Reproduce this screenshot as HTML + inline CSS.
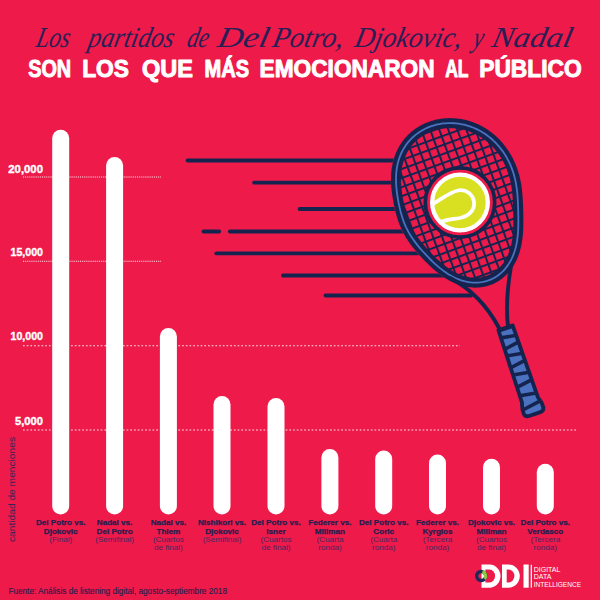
<!DOCTYPE html>
<html><head><meta charset="utf-8"><style>
html,body{margin:0;padding:0;background:#EE1A4A;}
svg{display:block}
.sc{font-family:"Liberation Serif",serif;font-style:italic;font-size:29px;fill:#2A1F55}
.cap{font-size:33px}
.tt{font-family:"Liberation Sans",sans-serif;font-weight:bold;font-size:24.2px;fill:#fff;stroke:#fff;stroke-width:1.0px;stroke-linejoin:round}
.lb{font-family:"Liberation Sans",sans-serif;font-weight:bold;font-size:8.1px;fill:#1E1F4F;stroke:#1E1F4F;stroke-width:0.25px;text-anchor:middle}
.lr{font-family:"Liberation Sans",sans-serif;font-size:8.1px;fill:#4A2762;text-anchor:middle}
.ax{font-family:"Liberation Sans",sans-serif;font-weight:bold;font-size:10.3px;fill:#fff;stroke:#fff;stroke-width:0.35px}
.yl{font-family:"Liberation Sans",sans-serif;font-size:9.8px;fill:#3A2358}
</style></head><body>
<svg width="600" height="600" viewBox="0 0 600 600">
<rect width="600" height="600" fill="#EE1A4A"/>
<text transform="translate(35.10,46.7) skewX(-12)" x="0" y="0" class="sc" textLength="33.40" lengthAdjust="spacingAndGlyphs">Los</text>
<text transform="translate(87.10,46.7) skewX(-12)" x="0" y="0" class="sc" textLength="85.40" lengthAdjust="spacingAndGlyphs">partidos</text>
<text transform="translate(185.90,46.7) skewX(-12)" x="0" y="0" class="sc" textLength="21.60" lengthAdjust="spacingAndGlyphs">de</text>
<text transform="translate(216.20,46.7) skewX(-12)" x="0" y="0" class="sc" textLength="51.00" lengthAdjust="spacingAndGlyphs">Del</text>
<text transform="translate(271.20,46.7) skewX(-12)" x="0" y="0" class="sc" textLength="71.00" lengthAdjust="spacingAndGlyphs">Potro,</text>
<text transform="translate(353.50,46.7) skewX(-12)" x="0" y="0" class="sc" textLength="107.00" lengthAdjust="spacingAndGlyphs">Djokovic,</text>
<text transform="translate(472.00,46.7) skewX(-12)" x="0" y="0" class="sc" textLength="10.00" lengthAdjust="spacingAndGlyphs">y</text>
<text transform="translate(490.50,46.7) skewX(-12)" x="0" y="0" class="sc" textLength="80.00" lengthAdjust="spacingAndGlyphs">Nadal</text>
<text x="28.2" y="76.5" class="tt" textLength="43.0" lengthAdjust="spacingAndGlyphs">SON</text>
<text x="82.2" y="76.5" class="tt" textLength="46.8" lengthAdjust="spacingAndGlyphs">LOS</text>
<text x="142.0" y="76.5" class="tt" textLength="51.0" lengthAdjust="spacingAndGlyphs">QUE</text>
<text x="204.6" y="76.5" class="tt" textLength="44.6" lengthAdjust="spacingAndGlyphs">MÁS</text>
<text x="259.6" y="76.5" class="tt" textLength="175.0" lengthAdjust="spacingAndGlyphs">EMOCIONARON</text>
<text x="445.2" y="76.5" class="tt" textLength="23.4" lengthAdjust="spacingAndGlyphs">AL</text>
<text x="479.2" y="76.5" class="tt" textLength="102.6" lengthAdjust="spacingAndGlyphs">PÚBLICO</text>
<g stroke="#fff" stroke-width="1.1" opacity="0.88">
<line x1="23" y1="177" x2="161.6" y2="177" stroke-dasharray="1 0.9"/>
<line x1="23" y1="261.2" x2="161.6" y2="261.2" stroke-dasharray="1 0.9"/>
<line x1="23" y1="345.8" x2="460" y2="345.8" stroke-dasharray="1.7 2"/>
<line x1="23" y1="430" x2="577" y2="430" stroke-dasharray="1.7 2"/>
</g>
<text x="8.3" y="172.6" class="ax" textLength="34.7" lengthAdjust="spacingAndGlyphs">20,000</text>
<text x="10.5" y="256.0" class="ax" textLength="32.5" lengthAdjust="spacingAndGlyphs">15,000</text>
<text x="10.5" y="340.0" class="ax" textLength="32.5" lengthAdjust="spacingAndGlyphs">10,000</text>
<text x="15.0" y="425.0" class="ax" textLength="28.0" lengthAdjust="spacingAndGlyphs">5,000</text>
<text transform="translate(15,542) rotate(-90)" x="0" y="0" textLength="105" lengthAdjust="spacingAndGlyphs" class="yl">cantidad de menciones</text>
<rect x="52.20" y="129.7" width="17" height="384.80" rx="8.5" fill="#fff"/>
<rect x="106.10" y="157" width="17" height="357.50" rx="8.5" fill="#fff"/>
<rect x="159.90" y="328" width="17" height="186.50" rx="8.5" fill="#fff"/>
<rect x="213.50" y="396" width="17" height="118.50" rx="8.5" fill="#fff"/>
<rect x="267.50" y="397.9" width="17" height="116.60" rx="8.5" fill="#fff"/>
<rect x="321.40" y="448.9" width="17" height="65.60" rx="8.5" fill="#fff"/>
<rect x="375.20" y="450.5" width="17" height="64.00" rx="8.5" fill="#fff"/>
<rect x="429.00" y="454.5" width="17" height="60.00" rx="8.5" fill="#fff"/>
<rect x="483.00" y="458.7" width="17" height="55.80" rx="8.5" fill="#fff"/>
<rect x="536.80" y="463.7" width="17" height="50.80" rx="8.5" fill="#fff"/>
<text x="60.7" y="525.3" class="lb">Del Potro vs.</text>
<text x="60.7" y="533.5" class="lb">Djokovic</text>
<text x="60.7" y="541.7" class="lr">(Final)</text>
<text x="114.6" y="525.3" class="lb">Nadal vs.</text>
<text x="114.6" y="533.5" class="lb">Del Potro</text>
<text x="114.6" y="541.7" class="lr">(Semifinal)</text>
<text x="168.4" y="525.3" class="lb">Nadal vs.</text>
<text x="168.4" y="533.5" class="lb">Thiem</text>
<text x="168.4" y="541.7" class="lr">(Cuartos</text>
<text x="168.4" y="549.9" class="lr">de final)</text>
<text x="222.0" y="525.3" class="lb">Nishikori vs.</text>
<text x="222.0" y="533.5" class="lb">Djokovic</text>
<text x="222.0" y="541.7" class="lr">(Semifinal)</text>
<text x="276.0" y="525.3" class="lb">Del Potro vs.</text>
<text x="276.0" y="533.5" class="lb">Isner</text>
<text x="276.0" y="541.7" class="lr">(Cuartos</text>
<text x="276.0" y="549.9" class="lr">de final)</text>
<text x="329.9" y="525.3" class="lb">Federer vs.</text>
<text x="329.9" y="533.5" class="lb">Millman</text>
<text x="329.9" y="541.7" class="lr">(Cuarta</text>
<text x="329.9" y="549.9" class="lr">ronda)</text>
<text x="383.7" y="525.3" class="lb">Del Potro vs.</text>
<text x="383.7" y="533.5" class="lb">Coric</text>
<text x="383.7" y="541.7" class="lr">(Cuarta</text>
<text x="383.7" y="549.9" class="lr">ronda)</text>
<text x="437.5" y="525.3" class="lb">Federer vs.</text>
<text x="437.5" y="533.5" class="lb">Kyrgios</text>
<text x="437.5" y="541.7" class="lr">(Tercera</text>
<text x="437.5" y="549.9" class="lr">ronda)</text>
<text x="491.5" y="525.3" class="lb">Djokovic vs.</text>
<text x="491.5" y="533.5" class="lb">Millman</text>
<text x="491.5" y="541.7" class="lr">(Cuartos</text>
<text x="491.5" y="549.9" class="lr">de final)</text>
<text x="545.3" y="525.3" class="lb">Del Potro vs.</text>
<text x="545.3" y="533.5" class="lb">Verdasco</text>
<text x="545.3" y="541.7" class="lr">(Tercera</text>
<text x="545.3" y="549.9" class="lr">ronda)</text>
<g stroke="#15244F" stroke-width="3.8" stroke-linecap="round">
<line x1="187.6" y1="160.5" x2="440" y2="160.5"/>
<line x1="254.1" y1="182.7" x2="440" y2="182.7"/>
<line x1="299.6" y1="209" x2="430" y2="209"/>
<line x1="229.8" y1="231.5" x2="430" y2="231.5"/>
<line x1="216.3" y1="253.3" x2="440" y2="253.3"/>
<line x1="283" y1="275.5" x2="470" y2="275.5"/>
<line x1="325.5" y1="295.5" x2="471" y2="295.5"/>
<line x1="203.5" y1="231.5" x2="219.2" y2="231.5"/>
</g>
<!-- racket -->
<defs>
<clipPath id="headclip"><path d="M398.27,201.00 L397.99,199.43 L397.72,197.84 L397.46,196.24 L397.21,194.61 L396.99,192.97 L396.78,191.30 L396.59,189.62 L396.42,187.91 L396.27,186.18 L396.16,184.43 L396.07,182.66 L396.02,180.86 L396.01,179.05 L396.03,177.21 L396.10,175.36 L396.22,173.49 L396.39,171.61 L396.61,169.72 L396.89,167.82 L397.23,165.91 L397.63,164.01 L398.10,162.10 L398.64,160.20 L399.25,158.31 L399.92,156.44 L400.67,154.58 L401.50,152.74 L402.39,150.93 L403.36,149.15 L404.41,147.41 L405.52,145.70 L406.71,144.03 L407.96,142.42 L409.29,140.85 L410.68,139.33 L412.13,137.87 L413.65,136.47 L415.22,135.13 L416.85,133.86 L418.54,132.65 L420.27,131.51 L422.04,130.43 L423.86,129.43 L425.72,128.50 L427.62,127.65 L429.54,126.87 L431.50,126.16 L433.48,125.52 L435.48,124.96 L437.50,124.48 L439.53,124.07 L441.58,123.73 L443.63,123.47 L445.69,123.28 L447.75,123.16 L449.81,123.11 L451.87,123.14 L453.92,123.23 L455.97,123.40 L458.00,123.63 L460.02,123.93 L462.02,124.29 L464.00,124.72 L465.97,125.21 L467.90,125.77 L469.82,126.38 L471.71,127.05 L473.56,127.78 L475.39,128.57 L477.18,129.40 L478.94,130.29 L480.67,131.23 L482.36,132.22 L484.01,133.25 L485.62,134.33 L487.19,135.45 L488.72,136.60 L490.20,137.80 L491.65,139.03 L493.05,140.29 L494.41,141.58 L495.73,142.90 L497.00,144.25 L498.23,145.63 L499.42,147.03 L500.56,148.44 L501.66,149.88 L502.72,151.34 L503.73,152.81 L504.71,154.29 L505.64,155.79 L506.53,157.30 L507.38,158.82 L508.19,160.35 L508.96,161.89 L509.70,163.44 L510.39,164.99 L511.05,166.55 L511.67,168.11 L512.26,169.67 L512.81,171.24 L513.32,172.81 L513.80,174.38 L514.25,175.96 L514.66,177.53 L515.05,179.10 L515.40,180.67 L515.72,182.24 L516.02,183.81 L516.29,185.38 L516.53,186.95 L516.75,188.51 L516.95,190.07 L517.13,191.64 L517.28,193.19 L517.42,194.75 L517.55,196.31 L517.66,197.87 L517.76,199.44 L517.84,201.00 L517.92,202.57 L517.99,204.14 L518.05,205.73 L518.11,207.32 L518.16,208.92 L518.20,210.53 L518.24,212.17 L518.28,213.81 L518.31,215.48 L518.33,217.17 L518.35,218.88 L518.36,220.61 L518.35,222.37 L518.33,224.16 L518.30,225.98 L518.24,227.82 L518.17,229.70 L518.06,231.60 L517.92,233.53 L517.74,235.49 L517.53,237.48 L517.26,239.49 L516.95,241.51 L516.58,243.56 L516.15,245.62 L515.65,247.68 L515.08,249.75 L514.44,251.82 L513.72,253.88 L512.92,255.92 L512.03,257.94 L511.06,259.92 L509.99,261.88 L508.84,263.78 L507.60,265.63 L506.26,267.43 L504.84,269.15 L503.33,270.79 L501.73,272.36 L500.05,273.83 L498.29,275.20 L496.45,276.47 L494.55,277.63 L492.59,278.68 L490.56,279.61 L488.48,280.42 L486.36,281.10 L484.21,281.66 L482.02,282.09 L479.81,282.40 L477.59,282.58 L475.35,282.63 L473.12,282.57 L470.89,282.39 L468.68,282.10 L466.48,281.69 L464.31,281.18 L462.17,280.58 L460.07,279.88 L458.00,279.10 L455.98,278.24 L454.00,277.31 L452.07,276.32 L450.19,275.27 L448.37,274.17 L446.59,273.03 L444.87,271.85 L443.20,270.65 L441.58,269.41 L440.00,268.16 L438.48,266.90 L437.00,265.63 L435.57,264.35 L434.17,263.07 L432.82,261.79 L431.50,260.52 L430.22,259.24 L428.97,257.98 L427.75,256.72 L426.55,255.47 L425.39,254.22 L424.24,252.98 L423.12,251.75 L422.03,250.51 L420.95,249.29 L419.89,248.06 L418.86,246.83 L417.85,245.60 L416.85,244.36 L415.88,243.12 L414.93,241.87 L414.00,240.61 L413.10,239.35 L412.22,238.07 L411.37,236.78 L410.54,235.48 L409.74,234.17 L408.97,232.84 L408.22,231.51 L407.50,230.15 L406.81,228.79 L406.15,227.42 L405.52,226.03 L404.92,224.63 L404.35,223.22 L403.80,221.81 L403.27,220.38 L402.78,218.94 L402.30,217.50 L401.85,216.05 L401.42,214.58 L401.01,213.11 L400.61,211.64 L400.24,210.15 L399.88,208.65 L399.53,207.15 L399.20,205.63 L398.87,204.10 L398.57,202.56 Z"/></clipPath>
<pattern id="str" patternUnits="userSpaceOnUse" width="8.5" height="8.5" x="-2.83" y="-1.88">
<rect x="0" y="0" width="2" height="8.5" fill="#15244F"/><rect x="0" y="0" width="8.5" height="2" fill="#15244F"/>
</pattern>
<clipPath id="hclip"><path d="M-7.5,1.7 L7.5,1.7 L8.4,78 Q10.8,84 10.3,89 Q9.8,92.7 6,92.7 L-6,92.7 Q-9.8,92.7 -10.3,89 Q-10.8,84 -8.4,78 Z"/></clipPath>
</defs>
<path d="M450,279 Q480,296 499,328 L508,326 C506,310 507,290 510,268 Z" fill="#EE1A4A"/>
<path d="M393.16,201.95 L392.87,200.33 L392.59,198.69 L392.32,197.03 L392.07,195.35 L391.83,193.65 L391.61,191.92 L391.42,190.16 L391.24,188.38 L391.09,186.57 L390.97,184.73 L390.88,182.86 L390.82,180.96 L390.81,179.03 L390.83,177.08 L390.91,175.10 L391.03,173.10 L391.21,171.08 L391.45,169.04 L391.76,166.98 L392.13,164.92 L392.56,162.85 L393.07,160.77 L393.66,158.70 L394.32,156.63 L395.07,154.58 L395.89,152.54 L396.79,150.52 L397.78,148.53 L398.85,146.57 L400.00,144.65 L401.23,142.77 L402.54,140.93 L403.92,139.14 L405.39,137.41 L406.92,135.74 L408.53,134.13 L410.20,132.58 L411.94,131.10 L413.73,129.70 L415.59,128.36 L417.49,127.11 L419.45,125.93 L421.45,124.83 L423.49,123.81 L425.57,122.87 L427.68,122.01 L429.82,121.24 L431.98,120.54 L434.17,119.93 L436.37,119.40 L438.59,118.95 L440.82,118.59 L443.06,118.30 L445.30,118.09 L447.55,117.96 L449.79,117.91 L452.02,117.94 L454.25,118.04 L456.47,118.22 L458.68,118.47 L460.86,118.80 L463.03,119.19 L465.18,119.66 L467.31,120.19 L469.41,120.79 L471.48,121.45 L473.53,122.18 L475.54,122.97 L477.52,123.82 L479.46,124.73 L481.36,125.69 L483.22,126.70 L485.05,127.77 L486.83,128.89 L488.57,130.05 L490.26,131.25 L491.91,132.50 L493.52,133.79 L495.07,135.11 L496.58,136.47 L498.05,137.86 L499.46,139.29 L500.83,140.74 L502.15,142.21 L503.42,143.71 L504.65,145.23 L505.83,146.77 L506.96,148.33 L508.05,149.91 L509.09,151.49 L510.09,153.10 L511.04,154.71 L511.95,156.34 L512.81,157.97 L513.64,159.61 L514.42,161.26 L515.16,162.92 L515.86,164.57 L516.52,166.24 L517.15,167.90 L517.73,169.57 L518.28,171.24 L518.79,172.91 L519.26,174.58 L519.70,176.25 L520.11,177.92 L520.48,179.58 L520.83,181.24 L521.14,182.89 L521.42,184.54 L521.68,186.19 L521.91,187.82 L522.11,189.46 L522.30,191.08 L522.46,192.70 L522.61,194.32 L522.73,195.92 L522.85,197.53 L522.95,199.13 L523.04,200.73 L523.11,202.33 L523.18,203.93 L523.25,205.53 L523.30,207.14 L523.35,208.76 L523.40,210.40 L523.44,212.04 L523.48,213.71 L523.51,215.39 L523.53,217.10 L523.55,218.84 L523.56,220.61 L523.55,222.40 L523.53,224.24 L523.50,226.10 L523.44,228.01 L523.36,229.95 L523.25,231.93 L523.10,233.95 L522.92,236.01 L522.69,238.10 L522.41,240.22 L522.08,242.38 L521.68,244.56 L521.22,246.76 L520.68,248.98 L520.07,251.21 L519.38,253.45 L518.59,255.69 L517.72,257.91 L516.75,260.13 L515.68,262.31 L514.50,264.47 L513.22,266.58 L511.84,268.64 L510.35,270.64 L508.76,272.57 L507.06,274.41 L505.26,276.17 L503.36,277.84 L501.37,279.39 L499.29,280.83 L497.13,282.15 L494.89,283.34 L492.59,284.40 L490.23,285.32 L487.82,286.09 L485.36,286.73 L482.88,287.22 L480.38,287.57 L477.86,287.77 L475.34,287.83 L472.83,287.76 L470.34,287.56 L467.86,287.23 L465.42,286.78 L463.01,286.22 L460.65,285.55 L458.33,284.79 L456.06,283.93 L453.85,282.99 L451.70,281.98 L449.61,280.90 L447.59,279.77 L445.62,278.59 L443.72,277.36 L441.88,276.11 L440.10,274.82 L438.38,273.52 L436.73,272.20 L435.12,270.87 L433.58,269.54 L432.08,268.21 L430.63,266.88 L429.23,265.55 L427.86,264.23 L426.54,262.92 L425.25,261.62 L424.00,260.32 L422.77,259.04 L421.58,257.76 L420.40,256.49 L419.26,255.22 L418.13,253.96 L417.02,252.69 L415.93,251.43 L414.86,250.15 L413.81,248.88 L412.78,247.59 L411.76,246.30 L410.77,244.99 L409.80,243.67 L408.84,242.33 L407.91,240.98 L407.01,239.61 L406.13,238.23 L405.27,236.83 L404.45,235.42 L403.65,233.99 L402.89,232.55 L402.15,231.09 L401.44,229.62 L400.77,228.14 L400.13,226.65 L399.51,225.15 L398.93,223.64 L398.38,222.13 L397.85,220.61 L397.35,219.08 L396.87,217.55 L396.42,216.02 L395.99,214.48 L395.58,212.94 L395.19,211.40 L394.81,209.85 L394.46,208.29 L394.11,206.72 L393.78,205.14 L393.46,203.55 Z" fill="#EE1A4A"/>
<g clip-path="url(#headclip)"><g transform="translate(459,203.4) rotate(-20)"><rect x="-75" y="-100" width="150" height="200" fill="url(#str)"/></g></g>
<path d="M398.27,201.00 L397.99,199.43 L397.72,197.84 L397.46,196.24 L397.21,194.61 L396.99,192.97 L396.78,191.30 L396.59,189.62 L396.42,187.91 L396.27,186.18 L396.16,184.43 L396.07,182.66 L396.02,180.86 L396.01,179.05 L396.03,177.21 L396.10,175.36 L396.22,173.49 L396.39,171.61 L396.61,169.72 L396.89,167.82 L397.23,165.91 L397.63,164.01 L398.10,162.10 L398.64,160.20 L399.25,158.31 L399.92,156.44 L400.67,154.58 L401.50,152.74 L402.39,150.93 L403.36,149.15 L404.41,147.41 L405.52,145.70 L406.71,144.03 L407.96,142.42 L409.29,140.85 L410.68,139.33 L412.13,137.87 L413.65,136.47 L415.22,135.13 L416.85,133.86 L418.54,132.65 L420.27,131.51 L422.04,130.43 L423.86,129.43 L425.72,128.50 L427.62,127.65 L429.54,126.87 L431.50,126.16 L433.48,125.52 L435.48,124.96 L437.50,124.48 L439.53,124.07 L441.58,123.73 L443.63,123.47 L445.69,123.28 L447.75,123.16 L449.81,123.11 L451.87,123.14 L453.92,123.23 L455.97,123.40 L458.00,123.63 L460.02,123.93 L462.02,124.29 L464.00,124.72 L465.97,125.21 L467.90,125.77 L469.82,126.38 L471.71,127.05 L473.56,127.78 L475.39,128.57 L477.18,129.40 L478.94,130.29 L480.67,131.23 L482.36,132.22 L484.01,133.25 L485.62,134.33 L487.19,135.45 L488.72,136.60 L490.20,137.80 L491.65,139.03 L493.05,140.29 L494.41,141.58 L495.73,142.90 L497.00,144.25 L498.23,145.63 L499.42,147.03 L500.56,148.44 L501.66,149.88 L502.72,151.34 L503.73,152.81 L504.71,154.29 L505.64,155.79 L506.53,157.30 L507.38,158.82 L508.19,160.35 L508.96,161.89 L509.70,163.44 L510.39,164.99 L511.05,166.55 L511.67,168.11 L512.26,169.67 L512.81,171.24 L513.32,172.81 L513.80,174.38 L514.25,175.96 L514.66,177.53 L515.05,179.10 L515.40,180.67 L515.72,182.24 L516.02,183.81 L516.29,185.38 L516.53,186.95 L516.75,188.51 L516.95,190.07 L517.13,191.64 L517.28,193.19 L517.42,194.75 L517.55,196.31 L517.66,197.87 L517.76,199.44 L517.84,201.00 L517.92,202.57 L517.99,204.14 L518.05,205.73 L518.11,207.32 L518.16,208.92 L518.20,210.53 L518.24,212.17 L518.28,213.81 L518.31,215.48 L518.33,217.17 L518.35,218.88 L518.36,220.61 L518.35,222.37 L518.33,224.16 L518.30,225.98 L518.24,227.82 L518.17,229.70 L518.06,231.60 L517.92,233.53 L517.74,235.49 L517.53,237.48 L517.26,239.49 L516.95,241.51 L516.58,243.56 L516.15,245.62 L515.65,247.68 L515.08,249.75 L514.44,251.82 L513.72,253.88 L512.92,255.92 L512.03,257.94 L511.06,259.92 L509.99,261.88 L508.84,263.78 L507.60,265.63 L506.26,267.43 L504.84,269.15 L503.33,270.79 L501.73,272.36 L500.05,273.83 L498.29,275.20 L496.45,276.47 L494.55,277.63 L492.59,278.68 L490.56,279.61 L488.48,280.42 L486.36,281.10 L484.21,281.66 L482.02,282.09 L479.81,282.40 L477.59,282.58 L475.35,282.63 L473.12,282.57 L470.89,282.39 L468.68,282.10 L466.48,281.69 L464.31,281.18 L462.17,280.58 L460.07,279.88 L458.00,279.10 L455.98,278.24 L454.00,277.31 L452.07,276.32 L450.19,275.27 L448.37,274.17 L446.59,273.03 L444.87,271.85 L443.20,270.65 L441.58,269.41 L440.00,268.16 L438.48,266.90 L437.00,265.63 L435.57,264.35 L434.17,263.07 L432.82,261.79 L431.50,260.52 L430.22,259.24 L428.97,257.98 L427.75,256.72 L426.55,255.47 L425.39,254.22 L424.24,252.98 L423.12,251.75 L422.03,250.51 L420.95,249.29 L419.89,248.06 L418.86,246.83 L417.85,245.60 L416.85,244.36 L415.88,243.12 L414.93,241.87 L414.00,240.61 L413.10,239.35 L412.22,238.07 L411.37,236.78 L410.54,235.48 L409.74,234.17 L408.97,232.84 L408.22,231.51 L407.50,230.15 L406.81,228.79 L406.15,227.42 L405.52,226.03 L404.92,224.63 L404.35,223.22 L403.80,221.81 L403.27,220.38 L402.78,218.94 L402.30,217.50 L401.85,216.05 L401.42,214.58 L401.01,213.11 L400.61,211.64 L400.24,210.15 L399.88,208.65 L399.53,207.15 L399.20,205.63 L398.87,204.10 L398.57,202.56 Z" fill="none" stroke="#15244F" stroke-width="10" stroke-linejoin="round"/>
<path d="M398.27,201.00 L397.99,199.43 L397.72,197.84 L397.46,196.24 L397.21,194.61 L396.99,192.97 L396.78,191.30 L396.59,189.62 L396.42,187.91 L396.27,186.18 L396.16,184.43 L396.07,182.66 L396.02,180.86 L396.01,179.05 L396.03,177.21 L396.10,175.36 L396.22,173.49 L396.39,171.61 L396.61,169.72 L396.89,167.82 L397.23,165.91 L397.63,164.01 L398.10,162.10 L398.64,160.20 L399.25,158.31 L399.92,156.44 L400.67,154.58 L401.50,152.74 L402.39,150.93 L403.36,149.15 L404.41,147.41 L405.52,145.70 L406.71,144.03 L407.96,142.42 L409.29,140.85 L410.68,139.33 L412.13,137.87 L413.65,136.47 L415.22,135.13 L416.85,133.86 L418.54,132.65 L420.27,131.51 L422.04,130.43 L423.86,129.43 L425.72,128.50 L427.62,127.65 L429.54,126.87 L431.50,126.16 L433.48,125.52 L435.48,124.96 L437.50,124.48 L439.53,124.07 L441.58,123.73 L443.63,123.47 L445.69,123.28 L447.75,123.16 L449.81,123.11 L451.87,123.14 L453.92,123.23 L455.97,123.40 L458.00,123.63 L460.02,123.93 L462.02,124.29 L464.00,124.72 L465.97,125.21 L467.90,125.77 L469.82,126.38 L471.71,127.05 L473.56,127.78 L475.39,128.57 L477.18,129.40 L478.94,130.29 L480.67,131.23 L482.36,132.22 L484.01,133.25 L485.62,134.33 L487.19,135.45 L488.72,136.60 L490.20,137.80 L491.65,139.03 L493.05,140.29 L494.41,141.58 L495.73,142.90 L497.00,144.25 L498.23,145.63 L499.42,147.03 L500.56,148.44 L501.66,149.88 L502.72,151.34 L503.73,152.81 L504.71,154.29 L505.64,155.79 L506.53,157.30 L507.38,158.82 L508.19,160.35 L508.96,161.89 L509.70,163.44 L510.39,164.99 L511.05,166.55 L511.67,168.11 L512.26,169.67 L512.81,171.24 L513.32,172.81 L513.80,174.38 L514.25,175.96 L514.66,177.53 L515.05,179.10 L515.40,180.67 L515.72,182.24 L516.02,183.81 L516.29,185.38 L516.53,186.95 L516.75,188.51 L516.95,190.07 L517.13,191.64 L517.28,193.19 L517.42,194.75 L517.55,196.31 L517.66,197.87 L517.76,199.44 L517.84,201.00 L517.92,202.57 L517.99,204.14 L518.05,205.73 L518.11,207.32 L518.16,208.92 L518.20,210.53 L518.24,212.17 L518.28,213.81 L518.31,215.48 L518.33,217.17 L518.35,218.88 L518.36,220.61 L518.35,222.37 L518.33,224.16 L518.30,225.98 L518.24,227.82 L518.17,229.70 L518.06,231.60 L517.92,233.53 L517.74,235.49 L517.53,237.48 L517.26,239.49 L516.95,241.51 L516.58,243.56 L516.15,245.62 L515.65,247.68 L515.08,249.75 L514.44,251.82 L513.72,253.88 L512.92,255.92 L512.03,257.94 L511.06,259.92 L509.99,261.88 L508.84,263.78 L507.60,265.63 L506.26,267.43 L504.84,269.15 L503.33,270.79 L501.73,272.36 L500.05,273.83 L498.29,275.20 L496.45,276.47 L494.55,277.63 L492.59,278.68 L490.56,279.61 L488.48,280.42 L486.36,281.10 L484.21,281.66 L482.02,282.09 L479.81,282.40 L477.59,282.58 L475.35,282.63 L473.12,282.57 L470.89,282.39 L468.68,282.10 L466.48,281.69 L464.31,281.18 L462.17,280.58 L460.07,279.88 L458.00,279.10 L455.98,278.24 L454.00,277.31 L452.07,276.32 L450.19,275.27 L448.37,274.17 L446.59,273.03 L444.87,271.85 L443.20,270.65 L441.58,269.41 L440.00,268.16 L438.48,266.90 L437.00,265.63 L435.57,264.35 L434.17,263.07 L432.82,261.79 L431.50,260.52 L430.22,259.24 L428.97,257.98 L427.75,256.72 L426.55,255.47 L425.39,254.22 L424.24,252.98 L423.12,251.75 L422.03,250.51 L420.95,249.29 L419.89,248.06 L418.86,246.83 L417.85,245.60 L416.85,244.36 L415.88,243.12 L414.93,241.87 L414.00,240.61 L413.10,239.35 L412.22,238.07 L411.37,236.78 L410.54,235.48 L409.74,234.17 L408.97,232.84 L408.22,231.51 L407.50,230.15 L406.81,228.79 L406.15,227.42 L405.52,226.03 L404.92,224.63 L404.35,223.22 L403.80,221.81 L403.27,220.38 L402.78,218.94 L402.30,217.50 L401.85,216.05 L401.42,214.58 L401.01,213.11 L400.61,211.64 L400.24,210.15 L399.88,208.65 L399.53,207.15 L399.20,205.63 L398.87,204.10 L398.57,202.56 Z" fill="none" stroke="#4A72C0" stroke-width="1.8" stroke-linejoin="round"/>
<g fill="none" stroke="#15244F" stroke-width="3.9" stroke-linecap="round">
<path d="M450,278 Q481,294 499,328"/>
<path d="M511,266 C507,290 506,310 508,326"/>
</g>
<!-- handle -->
<g transform="translate(505,326.2) rotate(-18.7)">
<path d="M-7.5,1.7 L7.5,1.7 L8.4,78 Q10.8,84 10.3,89 Q9.8,92.7 6,92.7 L-6,92.7 Q-9.8,92.7 -10.3,89 Q-10.8,84 -8.4,78 Z" fill="#4A72C0" stroke="#15244F" stroke-width="3.8" stroke-linejoin="round"/>
<g stroke="#15244F" stroke-width="3.6" clip-path="url(#hclip)">
<line x1="-11" y1="2.5" x2="11" y2="2.5"/>
<line x1="-11" y1="9.25" x2="11" y2="12.75"/>
<line x1="-11" y1="22.25" x2="11" y2="18.75"/>
<line x1="-11" y1="28.25" x2="11" y2="31.75"/>
<line x1="-11" y1="41.75" x2="11" y2="38.25"/>
<line x1="-11" y1="48.25" x2="11" y2="51.75"/>
<line x1="-11" y1="62.25" x2="11" y2="58.75"/>
<line x1="-11" y1="70.25" x2="11" y2="73.75"/>
<line x1="-11" y1="85.25" x2="11" y2="81.75"/>
</g>
</g>
<!-- ball -->
<circle cx="460" cy="202.5" r="34.7" fill="#EE1A4A" stroke="#15244F" stroke-width="3.7"/>
<circle cx="460" cy="202.5" r="27.85" fill="#D9E021" stroke="#fff" stroke-width="4.3"/>
<path d="M433,203.8 C442,199 450,192 458,190.5 C466,189 473,194 474,202 C475,210 469,216 460,218 C452,219.5 445,219.5 439,223" fill="none" stroke="#fff" stroke-width="3.8"/>

<!-- footer -->
<text x="8.4" y="593.6" textLength="218.6" lengthAdjust="spacingAndGlyphs" style="font-family:'Liberation Sans',sans-serif;font-size:8.5px;fill:#281D4C;stroke:#281D4C;stroke-width:0.12px">Fuente: Análisis de listening digital, agosto-septiembre 2018</text>
<!-- logo -->
<g>
<path d="M481.5,564.5 H489.5 A11,11.6 0 0 1 489.5,587.7 H481.5 Z" fill="#fff"/>
<path d="M485.4,569.6 H489.5 A5.6,6.4 0 0 1 489.5,582.4 H485.4 Z" fill="#EE1A4A"/>
<path d="M502,564.5 H508.5 A11.3,11.6 0 0 1 508.5,587.7 H502 Z" fill="#fff"/>
<path d="M506.7,569.6 H508.5 A5.9,6.4 0 0 1 508.5,582.4 H506.7 Z" fill="#EE1A4A"/>
<rect x="523.5" y="564.5" width="5.2" height="23.2" fill="#fff"/>
<rect x="530.7" y="564.8" width="1.2" height="22.9" fill="#fff"/>
<circle cx="481.2" cy="576" r="4.5" fill="none" stroke="#1B2A5A" stroke-width="3.4"/>
<path d="M482.4,571.7 A4.5,4.5 0 0 1 484.6,579" fill="none" stroke="#8DC63F" stroke-width="3.4"/>
<g style="font-family:'Liberation Sans',sans-serif;font-size:7px;fill:#fff">
<text x="533.7" y="572">DIGITAL</text>
<text x="533.7" y="579.4">DATA</text>
<text x="533.7" y="586.6" textLength="47.4" lengthAdjust="spacingAndGlyphs">INTELLIGENCE</text>
</g>
</g>

</svg>
</body></html>
